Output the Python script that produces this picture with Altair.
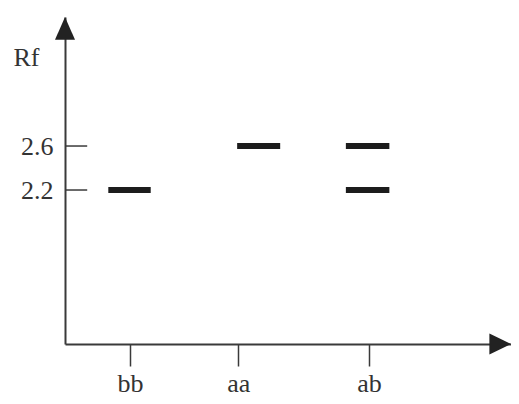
import altair as alt
import pandas as pd

# ---- data ----
genotypes = ["bb", "aa", "ab"]
genotype_pos = [1.435, 3.826, 6.71]          # x positions of the category ticks
band_genotype = ["bb", "aa", "ab", "ab"]
band_rf = [2.2, 2.6, 2.6, 2.2]
band_start = [0.956, 3.80, 6.20, 6.20]
band_end = [1.892, 4.75, 7.16, 7.16]
rf_ticks = [2.2, 2.6]

X_DOMAIN = [0, 9.845]
Y_DOMAIN = [0.8, 3.773]

INK = "#3a3a3a"
FONT = "Liberation Serif"

bands = pd.DataFrame({"g": band_genotype, "rf": band_rf, "x0": band_start, "x1": band_end})
yt = pd.DataFrame({"rf": rf_ticks, "x0": [0.0] * len(rf_ticks), "x1": [0.49] * len(rf_ticks)})
yarrow = pd.DataFrame({"x": [X_DOMAIN[0]], "y": [Y_DOMAIN[1]]})
xarrow = pd.DataFrame({"x": [X_DOMAIN[1]], "y": [Y_DOMAIN[0]]})

label_expr = " : ".join(
    f"abs(datum.value - {p}) < 0.01 ? '{g}'" for p, g in zip(genotype_pos, genotypes)
) + " : ''"

xscale = alt.Scale(domain=X_DOMAIN, nice=False, zero=False)
yscale = alt.Scale(domain=Y_DOMAIN, nice=False, zero=False)

xaxis = alt.Axis(
    values=genotype_pos, labelExpr=label_expr, title=None, grid=False,
    domain=True, domainColor=INK, domainWidth=2,
    ticks=True, tickSize=22, tickColor=INK, tickWidth=1.5,
    labelFont=FONT, labelFontSize=26, labelColor="#333333",
    labelBaseline="alphabetic", labelPadding=25, labelAngle=0,
)
yaxis = alt.Axis(
    values=rf_ticks, format=".1f", grid=False,
    domain=True, domainColor=INK, domainWidth=2, ticks=False,
    labelFont=FONT, labelFontSize=26, labelColor="#333333", labelPadding=12,
    labelBaseline="middle",
    title="Rf", titleAngle=0, titleAlign="left", titleBaseline="alphabetic",
    titleX=-52, titleY=48, titleFont=FONT, titleFontSize=26,
    titleFontWeight="normal", titleColor="#333333",
)

band_layer = alt.Chart(bands).mark_rule(strokeWidth=6, color="#1c1c1c", strokeCap="butt").encode(
    x=alt.X("x0:Q", scale=xscale, axis=xaxis),
    x2="x1:Q",
    y=alt.Y("rf:Q", scale=yscale, axis=yaxis),
)

ytick_layer = alt.Chart(yt).mark_rule(strokeWidth=1.5, color=INK).encode(
    x=alt.X("x0:Q", scale=xscale, axis=xaxis),
    x2="x1:Q",
    y=alt.Y("rf:Q", scale=yscale, axis=yaxis),
)

yarrow_layer = alt.Chart(yarrow).mark_point(
    shape="M0,0L1.25,2.85L-1.25,2.85Z", size=256, filled=True, opacity=1,
    color="#222222", strokeWidth=0,
).encode(
    x=alt.X("x:Q", scale=xscale, axis=xaxis),
    y=alt.Y("y:Q", scale=yscale, axis=yaxis),
)

xarrow_layer = alt.Chart(xarrow).mark_point(
    shape="M0,0L-2.7,-1.3L-2.7,1.3Z", size=256, filled=True, opacity=1,
    color="#222222", strokeWidth=0,
).encode(
    x=alt.X("x:Q", scale=xscale, axis=xaxis),
    y=alt.Y("y:Q", scale=yscale, axis=yaxis),
)

chart = alt.layer(band_layer, ytick_layer, yarrow_layer, xarrow_layer).properties(
    width=446,
    height=327,
    autosize=alt.AutoSizeParams(type="none"),
    padding={"left": 57, "top": 9, "right": 0, "bottom": 52},
    background="white",
).configure_view(stroke=None)

chart.save("out.html", embed_options={"renderer": "svg", "actions": False})
